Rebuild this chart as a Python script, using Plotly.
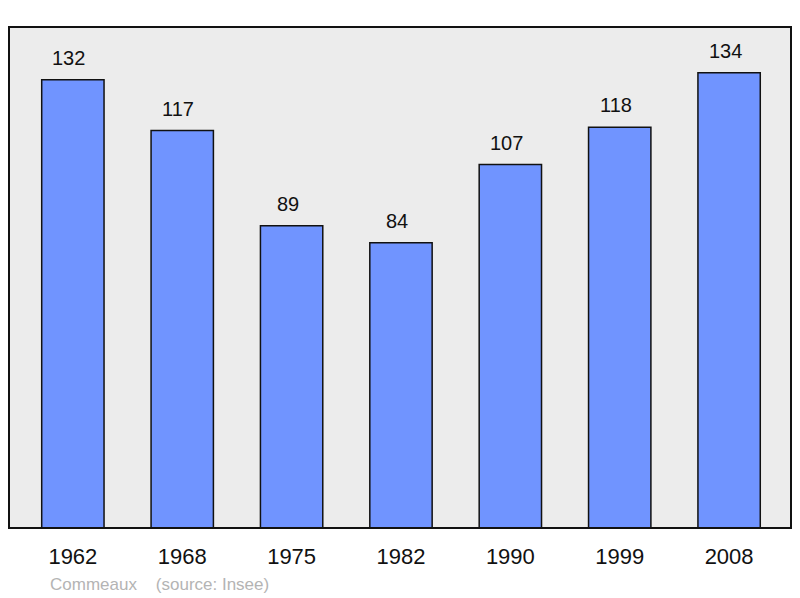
import plotly.graph_objects as go

years = ["1962", "1968", "1975", "1982", "1990", "1999", "2008"]
population = [132, 117, 89, 84, 107, 118, 134]
caption = "Commeaux    (source: Insee)"

fig = go.Figure()
fig.add_trace(go.Bar(x=years, y=population, width=0.57,
                     marker=dict(color="#7094ff", line=dict(color="#111111", width=1.5))))

# value labels above each bar (index positions, numeric-looking categories)
for i, v in enumerate(population):
    fig.add_annotation(x=i, y=v, text=str(v), showarrow=False, yanchor="bottom",
                       yshift=9, xshift=-4, font=dict(size=20, color="#111111"))

fig.add_annotation(xref="paper", yref="paper", x=(48 - 9) / 782, y=-(584 - 528) / 501,
                   text=caption, showarrow=False, xanchor="left", yanchor="middle",
                   font=dict(size=17, color="#b4b4b4"))

fig.add_shape(type="rect", xref="paper", yref="paper", x0=0, y0=0, x1=1, y1=1,
              line=dict(color="#111111", width=2))

# page body has an 8px margin, so the figure is shifted by that
fig.update_layout(
    width=792, height=590,
    margin=dict(l=1, r=9, t=19, b=70),
    plot_bgcolor="#ececec", paper_bgcolor="white",
    showlegend=False,
    font=dict(family="Liberation Sans, Arial, sans-serif"),
)
fig.update_xaxes(type="category", range=[-0.584, 6.566], showgrid=False, ticks="",
                 tickfont=dict(size=22, color="#111111"), ticklabelstandoff=13)
fig.update_yaxes(range=[0, 147.5], showgrid=False, showticklabels=False, zeroline=False)

fig.write_html("out.html")
